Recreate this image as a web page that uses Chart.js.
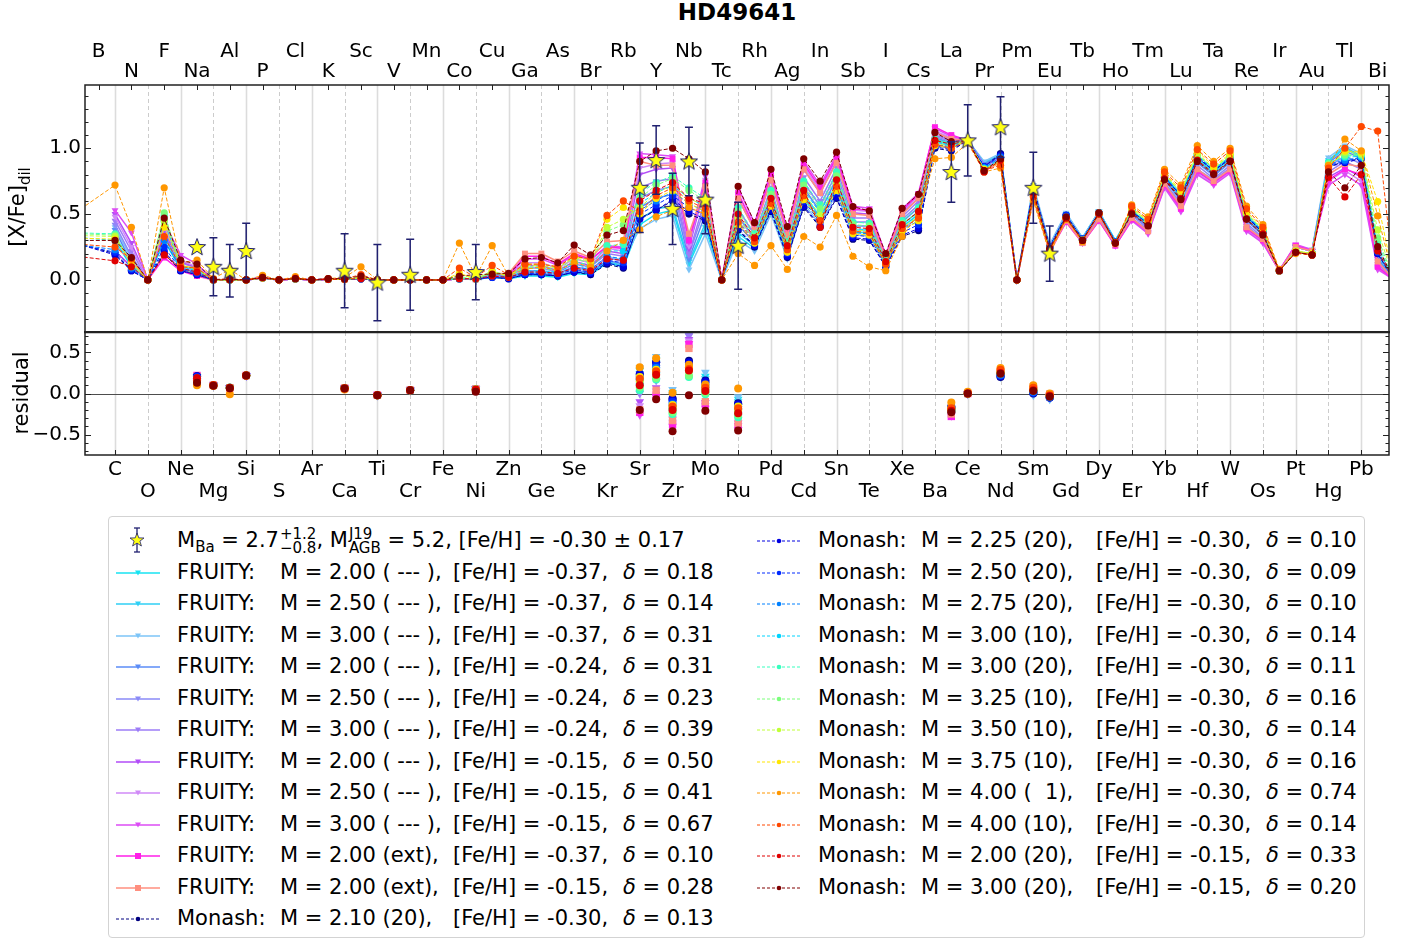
<!DOCTYPE html>
<html lang="en">
<head>
<meta charset="UTF-8">
<title>HD49641 abundance fit</title>
<script src="https://cdn.jsdelivr.net/npm/chart.js@4.4.1/dist/chart.umd.min.js"></script>
<style>
  html, body { margin: 0; padding: 0; background: #fff; }
  #page { position: relative; width: 1417px; height: 940px; overflow: hidden;
          font-family: "DejaVu Sans", sans-serif; color: #000; }
  #page canvas { position: absolute; left: 0; }
  .abs { position: absolute; white-space: pre; }
  #title { left: 537px; width: 400px; top: 0; text-align: center; font-weight: bold; font-size: 23px; line-height: 24px; }
  .ylab { font-size: 21px; line-height: 24px; transform: translate(-50%, -50%) rotate(-90deg); }
  .ylab sub { font-size: 15px; }
  #legendBox { position: absolute; left: 108px; top: 516px; width: 1257px; height: 422px;
               box-sizing: border-box; border: 1px solid #d3d3d3; border-radius: 4px; }
  .lt { position: absolute; white-space: pre; font-size: 21px; line-height: 26px; }
  .lt sub { font-size: 15px; }
  .stk { display: inline-flex; flex-direction: column; vertical-align: middle; font-size: 15px; line-height: 14px; margin-left: 1px; }
  .sample { position: absolute; }
</style>
</head>
<body>
<div id="page">
  <div id="title" class="abs">HD49641</div>
  <canvas id="abund" width="1417" height="333" style="top:0"></canvas>
  <canvas id="resid" width="1417" height="174" style="top:331px"></canvas>
  <div class="abs ylab" style="left:21px; top:207px">[X/Fe]<sub>dil</sub></div>
  <div class="abs ylab" style="left:21px; top:393px">residual</div>
  <div id="legendBox"></div>
</div>

<script>
const FONT = '"DejaVu Sans", sans-serif';
Chart.defaults.font.family = FONT;
Chart.defaults.color = '#000';

const elements = ['H','He','Li','Be','B','C','N','O','F','Ne','Na','Mg','Al','Si','P','S','Cl','Ar','K','Ca',
  'Sc','Ti','V','Cr','Mn','Fe','Co','Ni','Cu','Zn','Ga','Ge','As','Se','Br','Kr','Rb','Sr','Y','Zr',
  'Nb','Mo','Tc','Ru','Rh','Pd','Ag','Cd','In','Sn','Sb','Te','I','Xe','Cs','Ba','La','Ce','Pr','Nd',
  'Pm','Sm','Eu','Gd','Tb','Dy','Ho','Er','Tm','Yb','Lu','Hf','Ta','W','Re','Os','Ir','Pt','Au','Hg',
  'Tl','Pb','Bi','Po'];

const X_MIN = 4.17, X_MAX = 83.69;

// atomic numbers of the model columns
const modelZ = [3, 6, 7, 8, 9, 10, 11, 12, 13, 14,
  15, 16, 17, 18, 19, 20, 21, 22, 23, 24,
  25, 26, 27, 28, 29, 30, 31, 32, 33, 34,
  35, 36, 37, 38, 39, 40, 41, 42, 43, 44,
  45, 46, 47, 48, 49, 50, 51, 52, 53, 54,
  55, 56, 57, 58, 59, 60, 61, 62, 63, 64,
  65, 66, 67, 68, 69, 70, 71, 72, 73, 74,
  75, 76, 77, 78, 79, 80, 81, 82, 83, 84];

// observed star
const obsZ   = [11, 12, 13, 14, 20, 22, 24, 28, 38, 39, 40, 41, 42, 44, 57, 58, 60, 62, 63];
const obsVal = [0.25, 0.10, 0.07, 0.22, 0.07, -0.02, 0.04, 0.06, 0.70, 0.91, 0.54, 0.90, 0.61, 0.26, 0.82, 1.06, 1.16, 0.70, 0.20];
const obsErr = [null, 0.22, 0.20, 0.21, 0.28, 0.29, 0.27, 0.21, 0.34, 0.26, 0.27, 0.26, 0.26, 0.33, 0.23, 0.27, 0.23, 0.27, 0.21];

// FRUITY models (legend order)
const fruityMass  = ['2.00','2.50','3.00','2.00','2.50','3.00','2.00','2.50','3.00','2.00','2.00'];
const fruityTag   = [' --- ',' --- ',' --- ',' --- ',' --- ',' --- ',' --- ',' --- ',' --- ','ext','ext'];
const fruityFeH   = ['-0.37','-0.37','-0.37','-0.24','-0.24','-0.24','-0.15','-0.15','-0.15','-0.37','-0.15'];
const fruityDelta = ['0.18','0.14','0.31','0.31','0.23','0.39','0.50','0.41','0.67','0.10','0.28'];
const fruityColors = ['#17e3f2','#2fcff5','#7cc4f7','#5b8cf7','#8a8af7','#9d7cf7','#b24df7','#d08af7','#dc4cf5','#ff1fe8','#ff8f7f'];

const fruityRows = [
 [null,0.30,0.10,0,0.30,0.08,0.05,0,0,0,
  0.015,0,0.01,0,0.005,0.005,0.01,0,0,0,
  0,0,0.01,0.005,0.02,0.01,0.03,0.03,0.02,0.05,
  0.04,0.13,0.10,0.42,0.50,0.53,0.12,0.40,0,0.33,
  0.24,0.55,0.18,0.62,0.45,0.70,0.36,0.36,0.12,0.40,
  0.50,1.06,1.02,1.06,0.89,0.95,0,0.70,0.26,0.50,
  0.32,0.52,0.30,0.52,0.42,0.78,0.63,0.92,0.82,0.92,
  0.48,0.36,0.07,0.25,0.22,0.90,1.00,0.93,0.18,0],
 [null,0.33,0.12,0,0.33,0.09,0.05,0,0,0,
  0.015,0,0.01,0,0.005,0.005,0.01,0,0,0,
  0,0,0.01,0.005,0.02,0.01,0.04,0.04,0.03,0.06,
  0.05,0.14,0.11,0.46,0.54,0.56,0.14,0.43,0,0.36,
  0.26,0.58,0.20,0.65,0.48,0.73,0.38,0.38,0.13,0.42,
  0.52,1.07,1.03,1.06,0.89,0.95,0,0.70,0.26,0.50,
  0.32,0.52,0.30,0.51,0.415,0.77,0.62,0.91,0.81,0.905,
  0.465,0.35,0.07,0.25,0.22,0.91,1.01,0.94,0.18,0],
 [null,0.40,0.16,0,0.42,0.11,0.07,0,0,0,
  0.02,0,0.01,0,0.005,0.005,0.01,0,0,0,
  0,0,0.01,0.005,0.03,0.02,0.06,0.06,0.04,0.09,
  0.07,0.18,0.15,0.39,0.46,0.49,0.08,0.35,0,0.30,
  0.22,0.50,0.16,0.58,0.42,0.66,0.34,0.34,0.11,0.38,
  0.48,1.05,1.01,1.06,0.90,0.96,0,0.72,0.27,0.51,
  0.32,0.52,0.29,0.50,0.41,0.76,0.61,0.90,0.80,0.90,
  0.46,0.34,0.07,0.26,0.23,0.93,1.02,0.96,0.20,0],
 [null,0.38,0.13,0,0.35,0.09,0.06,0,0,0,
  0.015,0,0.01,0,0.005,0.005,0.01,0,0,0,
  0,0,0.01,0.005,0.02,0.02,0.05,0.05,0.03,0.07,
  0.06,0.15,0.12,0.55,0.62,0.65,0.16,0.50,0,0.42,
  0.28,0.62,0.22,0.70,0.52,0.77,0.41,0.41,0.14,0.44,
  0.55,1.08,1.04,1.06,0.88,0.94,0,0.69,0.25,0.49,
  0.31,0.51,0.29,0.50,0.40,0.76,0.60,0.89,0.79,0.89,
  0.45,0.34,0.07,0.25,0.22,0.89,0.98,0.92,0.16,0],
 [null,0.42,0.18,0,0.38,0.11,0.07,0,0,0,
  0.02,0,0.01,0,0.005,0.005,0.01,0,0,0,
  0,0,0.01,0.005,0.03,0.02,0.07,0.07,0.05,0.10,
  0.08,0.17,0.14,0.62,0.68,0.71,0.19,0.56,0,0.48,
  0.31,0.66,0.25,0.74,0.56,0.81,0.44,0.44,0.15,0.46,
  0.57,1.09,1.05,1.06,0.87,0.93,0,0.68,0.25,0.48,
  0.30,0.50,0.28,0.49,0.39,0.74,0.58,0.87,0.77,0.87,
  0.43,0.32,0.07,0.25,0.22,0.86,0.94,0.88,0.14,0],
 [null,0.45,0.22,0,0.42,0.13,0.09,0,0,0,
  0.02,0,0.01,0,0.005,0.005,0.01,0,0,0,
  0,0,0.01,0.005,0.03,0.03,0.09,0.09,0.06,0.12,
  0.10,0.20,0.18,0.70,0.75,0.77,0.20,0.62,0,0.54,
  0.34,0.70,0.28,0.78,0.60,0.85,0.47,0.47,0.16,0.48,
  0.60,1.10,1.06,1.06,0.87,0.92,0,0.67,0.24,0.47,
  0.30,0.49,0.28,0.47,0.38,0.73,0.56,0.84,0.76,0.85,
  0.41,0.31,0.07,0.26,0.22,0.82,0.90,0.84,0.12,0],
 [null,0.50,0.28,0,0.36,0.14,0.09,0,0,0,
  0.02,0,0.01,0,0.005,0.005,0.01,0,0,0,
  0,0,0.01,0.005,0.04,0.03,0.11,0.11,0.07,0.14,
  0.11,0.22,0.20,0.80,0.84,0.85,0.24,0.72,0,0.62,
  0.38,0.76,0.33,0.84,0.66,0.90,0.51,0.50,0.17,0.51,
  0.62,1.12,1.07,1.06,0.85,0.91,0,0.66,0.23,0.46,
  0.29,0.47,0.27,0.46,0.36,0.71,0.54,0.82,0.74,0.83,
  0.39,0.29,0.07,0.26,0.22,0.78,0.85,0.78,0.10,0],
 [null,0.48,0.25,0,0.40,0.15,0.10,0,0,0,
  0.02,0,0.01,0,0.005,0.005,0.01,0,0,0,
  0,0,0.01,0.005,0.04,0.04,0.13,0.13,0.09,0.16,
  0.13,0.24,0.22,0.85,0.88,0.89,0.26,0.76,0,0.65,
  0.40,0.78,0.35,0.86,0.68,0.92,0.53,0.52,0.18,0.52,
  0.64,1.13,1.08,1.06,0.85,0.91,0,0.65,0.22,0.45,
  0.28,0.46,0.26,0.46,0.36,0.71,0.53,0.81,0.73,0.82,
  0.38,0.29,0.07,0.26,0.22,0.75,0.83,0.75,0.09,0],
 [null,0.53,0.36,0,0.44,0.19,0.12,0,0,0,
  0.02,0,0.01,0,0.005,0.005,0.01,0,0,0,
  0,0,0.01,0.005,0.05,0.04,0.16,0.16,0.11,0.19,
  0.15,0.26,0.25,0.96,0.95,0.94,0.29,0.79,0,0.70,
  0.43,0.82,0.38,0.90,0.72,0.95,0.56,0.545,0.19,0.54,
  0.66,1.15,1.09,1.06,0.84,0.90,0,0.64,0.22,0.44,
  0.28,0.45,0.26,0.45,0.35,0.70,0.52,0.80,0.72,0.81,
  0.37,0.28,0.07,0.27,0.23,0.72,0.80,0.72,0.08,0],
 [null,0.22,0.10,0,0.17,0.07,0.03,0,0,0,
  0.015,0,0.01,0,0.005,0.005,0.01,0,0,0,
  0,0,0.01,0.005,0.04,0.04,0.18,0.18,0.12,0.20,
  0.16,0.25,0.24,0.93,0.93,0.92,0.30,0.74,0,0.66,
  0.40,0.80,0.36,0.88,0.70,0.93,0.54,0.53,0.18,0.53,
  0.65,1.16,1.10,1.06,0.84,0.90,0,0.64,0.21,0.44,
  0.28,0.45,0.26,0.46,0.37,0.72,0.54,0.83,0.74,0.83,
  0.39,0.30,0.07,0.26,0.22,0.76,0.84,0.80,0.10,0],
 [null,0.26,0.14,0,0.20,0.08,0.04,0,0,0,
  0.015,0,0.01,0,0.005,0.005,0.01,0,0,0,
  0,0,0.01,0.005,0.05,0.05,0.20,0.20,0.14,0.22,
  0.17,0.29,0.30,0.90,0.87,0.87,0.35,0.71,0,0.62,
  0.38,0.76,0.34,0.84,0.66,0.89,0.50,0.49,0.17,0.50,
  0.62,1.12,1.07,1.06,0.83,0.89,0,0.62,0.21,0.45,
  0.28,0.46,0.27,0.47,0.37,0.73,0.56,0.84,0.75,0.84,
  0.40,0.31,0.07,0.25,0.22,0.80,0.88,0.86,0.14,0]
];

// Monash models (legend order)
const monashMass   = ['2.10','2.25','2.50','2.75','3.00','3.00','3.25','3.50','3.75','4.00','4.00','2.00','3.00'];
const monashPocket = ['20','20','20','20','10','20','10','10','10','  1','10','20','20'];
const monashFeH    = ['-0.30','-0.30','-0.30','-0.30','-0.30','-0.30','-0.30','-0.30','-0.30','-0.30','-0.30','-0.15','-0.15'];
const monashDelta  = ['0.13','0.10','0.09','0.10','0.14','0.11','0.16','0.14','0.16','0.74','0.14','0.33','0.20'];
const monashColors = ['#000080','#0000e0','#002aff','#0080ff','#00d4ff','#37ffbe','#7bff7b','#c0ff37','#ffe500','#ff9700','#ff4800','#e00000','#800000'];

const monashRows = [
 [0.30,0.20,0.07,0,0.20,0.07,0.04,0,0,0,
  0.015,0,0.01,0,0.005,0.005,0.01,0,0,0,
  0,0,0.01,0.01,0.02,0.01,0.04,0.04,0.03,0.06,
  0.04,0.12,0.09,0.47,0.53,0.60,0.50,0.45,0,0.38,
  0.25,0.52,0.17,0.55,0.40,0.62,0.31,0.30,0.10,0.33,
  0.375,1.00,0.98,1.06,0.86,0.96,0,0.70,0.25,0.49,
  0.31,0.51,0.29,0.52,0.43,0.78,0.64,0.93,0.83,0.92,
  0.48,0.36,0.07,0.21,0.20,0.86,0.90,0.92,0.20,0],
 [0.30,0.19,0.07,0,0.22,0.07,0.04,0,0,0,
  0.015,0,0.01,0,0.005,0.005,0.01,0,0,0,
  0,0,0.01,0.01,0.02,0.01,0.04,0.04,0.03,0.06,
  0.05,0.13,0.10,0.46,0.53,0.61,0.52,0.46,0,0.39,
  0.26,0.53,0.18,0.56,0.41,0.63,0.32,0.31,0.10,0.34,
  0.39,1.01,0.99,1.06,0.86,0.95,0,0.69,0.25,0.49,
  0.31,0.51,0.29,0.52,0.43,0.78,0.64,0.93,0.83,0.92,
  0.48,0.36,0.07,0.21,0.20,0.86,0.89,0.92,0.20,0],
 [0.29,0.21,0.08,0,0.25,0.08,0.05,0,0,0,
  0.015,0,0.01,0,0.005,0.005,0.01,0,0,0,
  0,0,0.01,0.01,0.02,0.02,0.05,0.05,0.04,0.08,
  0.06,0.15,0.13,0.50,0.57,0.64,0.55,0.49,0,0.42,
  0.28,0.56,0.20,0.60,0.44,0.67,0.34,0.33,0.11,0.36,
  0.42,1.02,1.00,1.06,0.86,0.94,0,0.69,0.25,0.49,
  0.31,0.51,0.29,0.52,0.43,0.79,0.64,0.94,0.83,0.93,
  0.49,0.37,0.07,0.21,0.20,0.87,0.90,0.93,0.21,0],
 [0.28,0.23,0.09,0,0.30,0.09,0.06,0,0,0,
  0.015,0,0.01,0,0.005,0.005,0.01,0,0,0,
  0,0,0.01,0.01,0.03,0.02,0.06,0.06,0.05,0.10,
  0.08,0.18,0.16,0.53,0.60,0.67,0.58,0.52,0,0.45,
  0.30,0.59,0.22,0.63,0.47,0.70,0.36,0.35,0.12,0.38,
  0.45,1.03,1.01,1.06,0.85,0.93,0,0.68,0.24,0.48,
  0.31,0.51,0.29,0.53,0.43,0.79,0.65,0.94,0.84,0.93,
  0.49,0.37,0.07,0.21,0.20,0.88,0.91,0.93,0.22,0],
 [0.33,0.30,0.10,0,0.45,0.10,0.07,0,0,0,
  0.015,0,0.01,0,0.005,0.005,0.01,0,0,0,
  0,0,0.01,0.01,0.04,0.02,0.07,0.07,0.06,0.12,
  0.09,0.22,0.22,0.58,0.66,0.72,0.62,0.56,0,0.49,
  0.32,0.63,0.25,0.68,0.51,0.75,0.39,0.38,0.13,0.41,
  0.49,1.05,1.02,1.06,0.85,0.92,0,0.67,0.24,0.48,
  0.30,0.50,0.28,0.53,0.44,0.79,0.65,0.95,0.84,0.94,
  0.50,0.37,0.07,0.22,0.20,0.89,0.93,0.94,0.24,0],
 [0.36,0.35,0.12,0,0.49,0.11,0.08,0,0,0,
  0.015,0,0.01,0,0.005,0.005,0.015,0,0,0,
  0,0,0.01,0.01,0.05,0.03,0.09,0.09,0.07,0.14,
  0.11,0.26,0.27,0.66,0.74,0.79,0.70,0.62,0,0.55,
  0.35,0.68,0.29,0.75,0.57,0.82,0.44,0.43,0.15,0.45,
  0.55,1.07,1.04,1.06,0.84,0.91,0,0.66,0.23,0.47,
  0.30,0.50,0.28,0.53,0.44,0.80,0.66,0.95,0.84,0.94,
  0.50,0.38,0.07,0.22,0.20,0.89,0.94,0.95,0.28,0],
 [0.355,0.34,0.12,0,0.51,0.11,0.08,0,0,0,
  0.015,0,0.01,0,0.005,0.005,0.015,0,0,0,
  0,0,0.02,0.01,0.07,0.03,0.10,0.10,0.08,0.16,
  0.13,0.37,0.42,0.62,0.72,0.77,0.68,0.60,0,0.52,
  0.33,0.65,0.27,0.72,0.54,0.79,0.42,0.41,0.14,0.43,
  0.52,1.06,1.03,1.06,0.84,0.91,0,0.66,0.23,0.47,
  0.30,0.50,0.28,0.53,0.44,0.80,0.66,0.95,0.85,0.94,
  0.50,0.38,0.07,0.22,0.20,0.88,0.95,0.95,0.32,0],
 [0.34,0.33,0.13,0,0.45,0.11,0.09,0,0,0,
  0.015,0,0.01,0,0.005,0.005,0.02,0,0,0,
  0,0,0.04,0.01,0.06,0.03,0.11,0.11,0.09,0.17,
  0.14,0.40,0.46,0.55,0.66,0.72,0.62,0.56,0,0.47,
  0.30,0.60,0.24,0.66,0.49,0.73,0.38,0.37,0.13,0.40,
  0.48,1.04,1.01,1.06,0.84,0.90,0,0.65,0.22,0.47,
  0.30,0.50,0.28,0.54,0.45,0.80,0.67,0.96,0.85,0.95,
  0.51,0.38,0.07,0.22,0.20,0.87,0.97,0.96,0.38,0],
 [0.32,0.31,0.14,0,0.40,0.11,0.09,0,0,0,
  0.015,0,0.01,0,0.005,0.005,0.02,0,0,0,
  0,0,0.05,0.01,0.06,0.03,0.12,0.12,0.10,0.18,
  0.15,0.46,0.55,0.50,0.62,0.68,0.58,0.52,0,0.42,
  0.28,0.56,0.21,0.61,0.45,0.68,0.35,0.34,0.12,0.37,
  0.45,1.02,1.00,1.06,0.84,0.89,0,0.64,0.22,0.47,
  0.30,0.50,0.28,0.55,0.45,0.81,0.68,0.98,0.86,0.96,
  0.52,0.39,0.07,0.22,0.20,0.86,0.98,0.97,0.595,0],
 [0.46,0.72,0.40,0,0.70,0.13,0.15,0.01,0.08,0,
  0.035,0,0.025,0,0.01,0.02,0.10,0,0,0,
  0,0,0.28,0.025,0.26,0.03,0.08,0.10,0.07,0.13,
  0.10,0.22,0.30,0.38,0.48,0.53,0.55,0.50,0,0.20,
  0.11,0.26,0.08,0.33,0.25,0.49,0.18,0.10,0.07,0.33,
  0.50,0.92,0.93,1.04,0.82,0.85,0,0.60,0.20,0.46,
  0.29,0.51,0.28,0.57,0.48,0.84,0.72,1.02,0.90,1.00,
  0.56,0.42,0.08,0.20,0.19,0.87,1.07,0.98,0.486,0],
 [0.28,0.25,0.16,0,0.33,0.10,0.09,0,0.01,0,
  0.02,0,0.015,0,0.01,0.01,0.04,0,0,0,
  0,0,0.09,0.02,0.11,0.04,0.12,0.12,0.10,0.18,
  0.16,0.49,0.60,0.52,0.64,0.70,0.60,0.54,0,0.44,
  0.29,0.58,0.23,0.64,0.45,0.71,0.37,0.36,0.12,0.39,
  0.47,1.03,1.00,1.06,0.83,0.87,0,0.63,0.22,0.47,
  0.30,0.50,0.28,0.56,0.46,0.82,0.70,0.99,0.88,0.98,
  0.54,0.40,0.07,0.21,0.19,0.85,1.00,1.165,1.13,0],
 [0.19,0.145,0.10,0,0.19,0.09,0.06,0,0,0,
  0.015,0,0.01,0,0.005,0.005,0.01,0,0,0,
  0,0,0.01,0.01,0.03,0.02,0.06,0.06,0.05,0.09,
  0.07,0.16,0.15,0.60,0.68,0.74,0.62,0.58,0,0.50,
  0.32,0.62,0.26,0.68,0.40,0.76,0.40,0.39,0.14,0.42,
  0.52,1.06,1.03,1.06,0.82,0.91,0,0.66,0.23,0.47,
  0.30,0.50,0.28,0.51,0.415,0.77,0.62,0.91,0.81,0.905,
  0.465,0.35,0.07,0.21,0.19,0.78,0.63,0.80,0.22,0],
 [0.30,0.30,0.17,0,0.47,0.15,0.12,0.005,0.005,0,
  0.02,0,0.01,0,0.01,0.01,0.03,0,0,0,
  0,0,0.03,0.04,0.045,0.05,0.16,0.17,0.13,0.265,
  0.19,0.34,0.375,0.90,0.98,1.00,0.92,0.82,0,0.71,
  0.435,0.84,0.405,0.92,0.75,0.97,0.557,0.524,0.20,0.544,
  0.65,1.12,1.05,1.06,0.83,0.92,0,0.67,0.24,0.48,
  0.30,0.51,0.28,0.50,0.41,0.76,0.61,0.90,0.80,0.90,
  0.46,0.34,0.07,0.21,0.19,0.82,0.70,0.87,0.253,0]
];

// ---------- helpers ----------
function colOf(z) { return modelZ.indexOf(z); }
function toPoints(row) {
  return modelZ.map((z, i) => ({ x: z, y: row[i] })).filter(p => p.y !== null);
}
function residPoints(row) {
  return obsZ.map((z, i) => ({ x: z, y: obsVal[i] - row[colOf(z)] }));
}

function makeStar(size) {
  const c = document.createElement('canvas');
  c.width = c.height = size;
  const g = c.getContext('2d');
  const cx = size / 2, cy = size / 2 + 0.5, R = size / 2 - 1, r = R * 0.42;
  g.beginPath();
  for (let i = 0; i < 10; i++) {
    const a = -Math.PI / 2 + i * Math.PI / 5;
    const rr = i % 2 ? r : R;
    g.lineTo(cx + rr * Math.cos(a), cy + rr * Math.sin(a));
  }
  g.closePath();
  g.fillStyle = '#ffff14';
  g.fill();
  g.strokeStyle = '#1c1c6b';
  g.lineWidth = 1;
  g.stroke();
  return c;
}
const starImg = makeStar(20);

// datasets for both panels
const N = fruityRows.length + monashRows.length;
const topSets = [], resSets = [];
fruityRows.forEach((row, i) => {
  const ext = fruityTag[i] === 'ext';
  const style = {
    borderColor: fruityColors[i], backgroundColor: fruityColors[i],
    pointStyle: ext ? 'rect' : 'triangle', pointRotation: ext ? 0 : 180,
    pointBorderWidth: 0, order: 10 + N - i
  };
  topSets.push(Object.assign({ data: toPoints(row), borderWidth: 1.5, pointRadius: ext ? 4.2 : 4 }, style));
  resSets.push(Object.assign({ data: residPoints(row), showLine: false, pointRadius: ext ? 5.2 : 5 }, style));
});
monashRows.forEach((row, j) => {
  const k = fruityRows.length + j;
  const style = {
    borderColor: monashColors[j], backgroundColor: monashColors[j],
    pointStyle: 'circle', pointBorderWidth: 0, order: 10 + N - k
  };
  topSets.push(Object.assign({ data: toPoints(row), borderWidth: 1, borderDash: [4, 2], pointRadius: 3.6 }, style));
  resSets.push(Object.assign({ data: residPoints(row), showLine: false, pointRadius: 4 }, style));
});
topSets.push({
  data: obsZ.map((z, i) => ({ x: z, y: obsVal[i] })), showLine: false,
  pointStyle: starImg, pointRadius: 10, order: 0, isObs: true
});

// axis decoration: grid, inward ticks, frame, error bars
const decor = {
  id: 'decor',
  beforeDatasetsDraw(chart, args, o) {
    const { ctx, chartArea: a } = chart;
    const xs = chart.scales.x;
    ctx.save();
    for (let z = 6; z <= 82; z += 2) {
      const px = Math.round(xs.getPixelForValue(z)) + 0.5;
      ctx.beginPath();
      if (z % 4 === 0) { ctx.setLineDash([4, 3]); ctx.lineWidth = 1; ctx.strokeStyle = '#cccccc'; }
      else { ctx.setLineDash([]); ctx.lineWidth = 1.6; ctx.strokeStyle = '#dcdcdc'; }
      ctx.moveTo(px, a.top); ctx.lineTo(px, a.bottom); ctx.stroke();
    }
    ctx.setLineDash([]);
    if (o.zeroLine) {
      const py = Math.round(chart.scales.y.getPixelForValue(0)) + 0.5;
      ctx.strokeStyle = '#4d4d4d'; ctx.lineWidth = 1;
      ctx.beginPath(); ctx.moveTo(a.left, py); ctx.lineTo(a.right, py); ctx.stroke();
    }
    ctx.restore();
  },
  beforeDatasetDraw(chart, args) {
    const ds = chart.data.datasets[args.index];
    if (!ds.isObs) return;
    const { ctx } = chart, xs = chart.scales.x, ys = chart.scales.y;
    ctx.save();
    ctx.strokeStyle = '#202070'; ctx.lineWidth = 1.5;
    obsZ.forEach((z, i) => {
      if (obsErr[i] === null) return;
      const px = xs.getPixelForValue(z);
      const y1 = ys.getPixelForValue(obsVal[i] + obsErr[i]);
      const y2 = ys.getPixelForValue(obsVal[i] - obsErr[i]);
      ctx.beginPath();
      ctx.moveTo(px, y1); ctx.lineTo(px, y2);
      ctx.moveTo(px - 4, y1); ctx.lineTo(px + 4, y1);
      ctx.moveTo(px - 4, y2); ctx.lineTo(px + 4, y2);
      ctx.stroke();
    });
    ctx.restore();
  },
  afterDatasetsDraw(chart, args, o) {
    const { ctx, chartArea: a } = chart;
    const xs = chart.scales.x, ys = chart.scales.y;
    ctx.save();
    ctx.strokeStyle = '#222'; ctx.lineWidth = 1;
    for (let k = o.minorFrom; k <= o.minorTo; k++) {
      const py = Math.round(ys.getPixelForValue(k / 10)) + 0.5;
      const len = k % 5 === 0 ? 6 : 3.5;
      ctx.beginPath();
      ctx.moveTo(a.left, py); ctx.lineTo(a.left + len, py);
      ctx.moveTo(a.right, py); ctx.lineTo(a.right - len, py);
      ctx.stroke();
    }
    for (let z = o.xFrom; z <= 83; z += 2) {
      const px = Math.round(xs.getPixelForValue(z)) + 0.5;
      ctx.beginPath();
      if (o.xSide === 'top') { ctx.moveTo(px, a.top); ctx.lineTo(px, a.top + 5); }
      else { ctx.moveTo(px, a.bottom); ctx.lineTo(px, a.bottom - 5); }
      ctx.stroke();
    }
    ctx.lineWidth = 1.5;
    ctx.strokeRect(a.left, a.top, a.right - a.left, a.bottom - a.top);
    if (o.sep) {
      ctx.lineWidth = 2.5;
      ctx.beginPath(); ctx.moveTo(a.left - 1, a.top); ctx.lineTo(a.right + 1, a.top); ctx.stroke();
    }
    ctx.restore();
  }
};

const fixY = s => { s.width = 85; s.paddingTop = 0; s.paddingBottom = 0; };

new Chart(document.getElementById('abund'), {
  type: 'line',
  data: { datasets: topSets },
  plugins: [decor],
  options: {
    responsive: false, animation: false, events: [], devicePixelRatio: 1,
    layout: { autoPadding: false, padding: { left: 0, right: 28, top: 0, bottom: 1 } },
    plugins: {
      legend: { display: false }, tooltip: { enabled: false },
      decor: { minorFrom: -3, minorTo: 14, xFrom: 5, xSide: 'top' }
    },
    scales: {
      x: {
        type: 'linear', position: 'top', min: X_MIN, max: X_MAX,
        afterBuildTicks: s => { const t = []; for (let z = 5; z <= 83; z += 2) t.push({ value: z }); s.ticks = t; },
        afterFit: s => { s.height = 85; s.paddingLeft = 0; s.paddingRight = 0; },
        grid: { display: false, drawTicks: false }, border: { display: false },
        ticks: {
          autoSkip: false, maxRotation: 0, minRotation: 0, padding: 3, crossAlign: 'far',
          font: { size: 20, lineHeight: 1 }, color: '#000',
          callback: v => (v % 4 === 1 ? [elements[v - 1]] : ['', elements[v - 1]])
        }
      },
      y: {
        min: -0.395, max: 1.48,
        afterBuildTicks: s => { s.ticks = [0, 0.5, 1].map(v => ({ value: v })); },
        afterFit: fixY,
        grid: { display: false, drawTicks: false }, border: { display: false },
        ticks: { font: { size: 20 }, color: '#000', padding: 4, callback: v => v.toFixed(1) }
      }
    }
  }
});

new Chart(document.getElementById('resid'), {
  type: 'line',
  data: { datasets: resSets },
  plugins: [decor],
  options: {
    responsive: false, animation: false, events: [], devicePixelRatio: 1,
    layout: { autoPadding: false, padding: { left: 0, right: 28, top: 1, bottom: 0 } },
    plugins: {
      legend: { display: false }, tooltip: { enabled: false },
      decor: { minorFrom: -7, minorTo: 7, xFrom: 6, xSide: 'bottom', zeroLine: true, sep: true }
    },
    scales: {
      x: {
        type: 'linear', position: 'bottom', min: X_MIN, max: X_MAX,
        afterBuildTicks: s => { const t = []; for (let z = 6; z <= 82; z += 2) t.push({ value: z }); s.ticks = t; },
        afterFit: s => { s.height = 50; s.paddingLeft = 0; s.paddingRight = 0; },
        grid: { display: false, drawTicks: false }, border: { display: false },
        ticks: {
          autoSkip: false, maxRotation: 0, minRotation: 0, padding: 4,
          font: { size: 20, lineHeight: 1.1 }, color: '#000',
          callback: v => (v % 4 === 2 ? [elements[v - 1]] : ['', elements[v - 1]])
        }
      },
      y: {
        min: -0.75, max: 0.75,
        afterBuildTicks: s => { s.ticks = [-0.5, 0, 0.5].map(v => ({ value: v })); },
        afterFit: fixY,
        grid: { display: false, drawTicks: false }, border: { display: false },
        ticks: { font: { size: 20 }, color: '#000', padding: 4,
          callback: v => (v < 0 ? '\u2212' + Math.abs(v).toFixed(1) : v.toFixed(1)) }
      }
    }
  }
});

// ---------- legend ----------
const page = document.getElementById('page');
const colX = [[116, 177, 280, 453, 623], [757, 818, 921, 1096, 1266]];

function sampleSvg(color, dashed, marker) {
  let m = '';
  if (marker === 'tri') m = `<polygon points="19,4.5 25,4.5 22,9.5" fill="${color}"/>`;
  if (marker === 'sq') m = `<rect x="19" y="4" width="6" height="6" fill="${color}"/>`;
  if (marker === 'dot') m = `<circle cx="22" cy="7" r="2.3" fill="${color}"/>`;
  const dash = dashed ? ' stroke-dasharray="3,2"' : '';
  return `<svg width="44" height="14" viewBox="0 0 44 14"><line x1="0" y1="7" x2="44" y2="7" stroke="${color}" stroke-width="${dashed ? 1 : 1.5}"${dash}/>${m}</svg>`;
}
function addSpan(x, yc, html) {
  const s = document.createElement('div');
  s.className = 'lt';
  s.style.left = x + 'px';
  s.style.top = (yc - 12) + 'px';
  s.innerHTML = html;
  page.appendChild(s);
}
function addRow(col, row, svg, parts) {
  const X = colX[col];
  const yc = 539 + row * 31.5;
  const d = document.createElement('div');
  d.className = 'sample';
  d.style.left = X[0] + 'px';
  d.style.top = (yc - 6) + 'px';
  d.innerHTML = svg;
  page.appendChild(d);
  parts.forEach((p, i) => addSpan(X[i + 1], yc, p));
}

// observation entry
addRow(0, 0,
  `<svg width="44" height="30" viewBox="0 -8 44 30" style="margin-top:-8px">
     <line x1="21" y1="-5" x2="21" y2="19" stroke="#202070" stroke-width="1.3"/>
     <line x1="18" y1="-5" x2="24" y2="-5" stroke="#202070" stroke-width="1.3"/>
     <line x1="18" y1="19" x2="24" y2="19" stroke="#202070" stroke-width="1.3"/>
     <polygon points="21,0 22.8,4.9 28,5 23.9,8.1 25.4,13 21,10.1 16.6,13 18.1,8.1 14,5 19.2,4.9" fill="#ffff14" stroke="#1c1c6b" stroke-width="0.8"/>
   </svg>`,
  ['M<sub>Ba</sub> = 2.7<span class="stk"><span>+1.2</span><span>\u22120.8</span></span>, M<span class="stk"><span>J19</span><span>AGB</span></span> = 5.2, [Fe/H] = -0.30 \u00b1 0.17']);

fruityRows.forEach((r, i) => {
  const ext = fruityTag[i] === 'ext';
  addRow(0, i + 1, sampleSvg(fruityColors[i], false, ext ? 'sq' : 'tri'), [
    'FRUITY:',
    `M = ${fruityMass[i]} (${fruityTag[i]}),`,
    `[Fe/H] = ${fruityFeH[i]},`,
    `<i>\u03b4</i> = ${fruityDelta[i]}`
  ]);
});
monashRows.forEach((r, j) => {
  const col = j === 0 ? 0 : 1;
  const row = j === 0 ? 12 : j - 1;
  addRow(col, row, sampleSvg(monashColors[j], true, 'dot'), [
    'Monash:',
    `M = ${monashMass[j]} (${monashPocket[j]}),`,
    `[Fe/H] = ${monashFeH[j]},`,
    `<i>\u03b4</i> = ${monashDelta[j]}`
  ]);
});
</script>
</body>
</html>
